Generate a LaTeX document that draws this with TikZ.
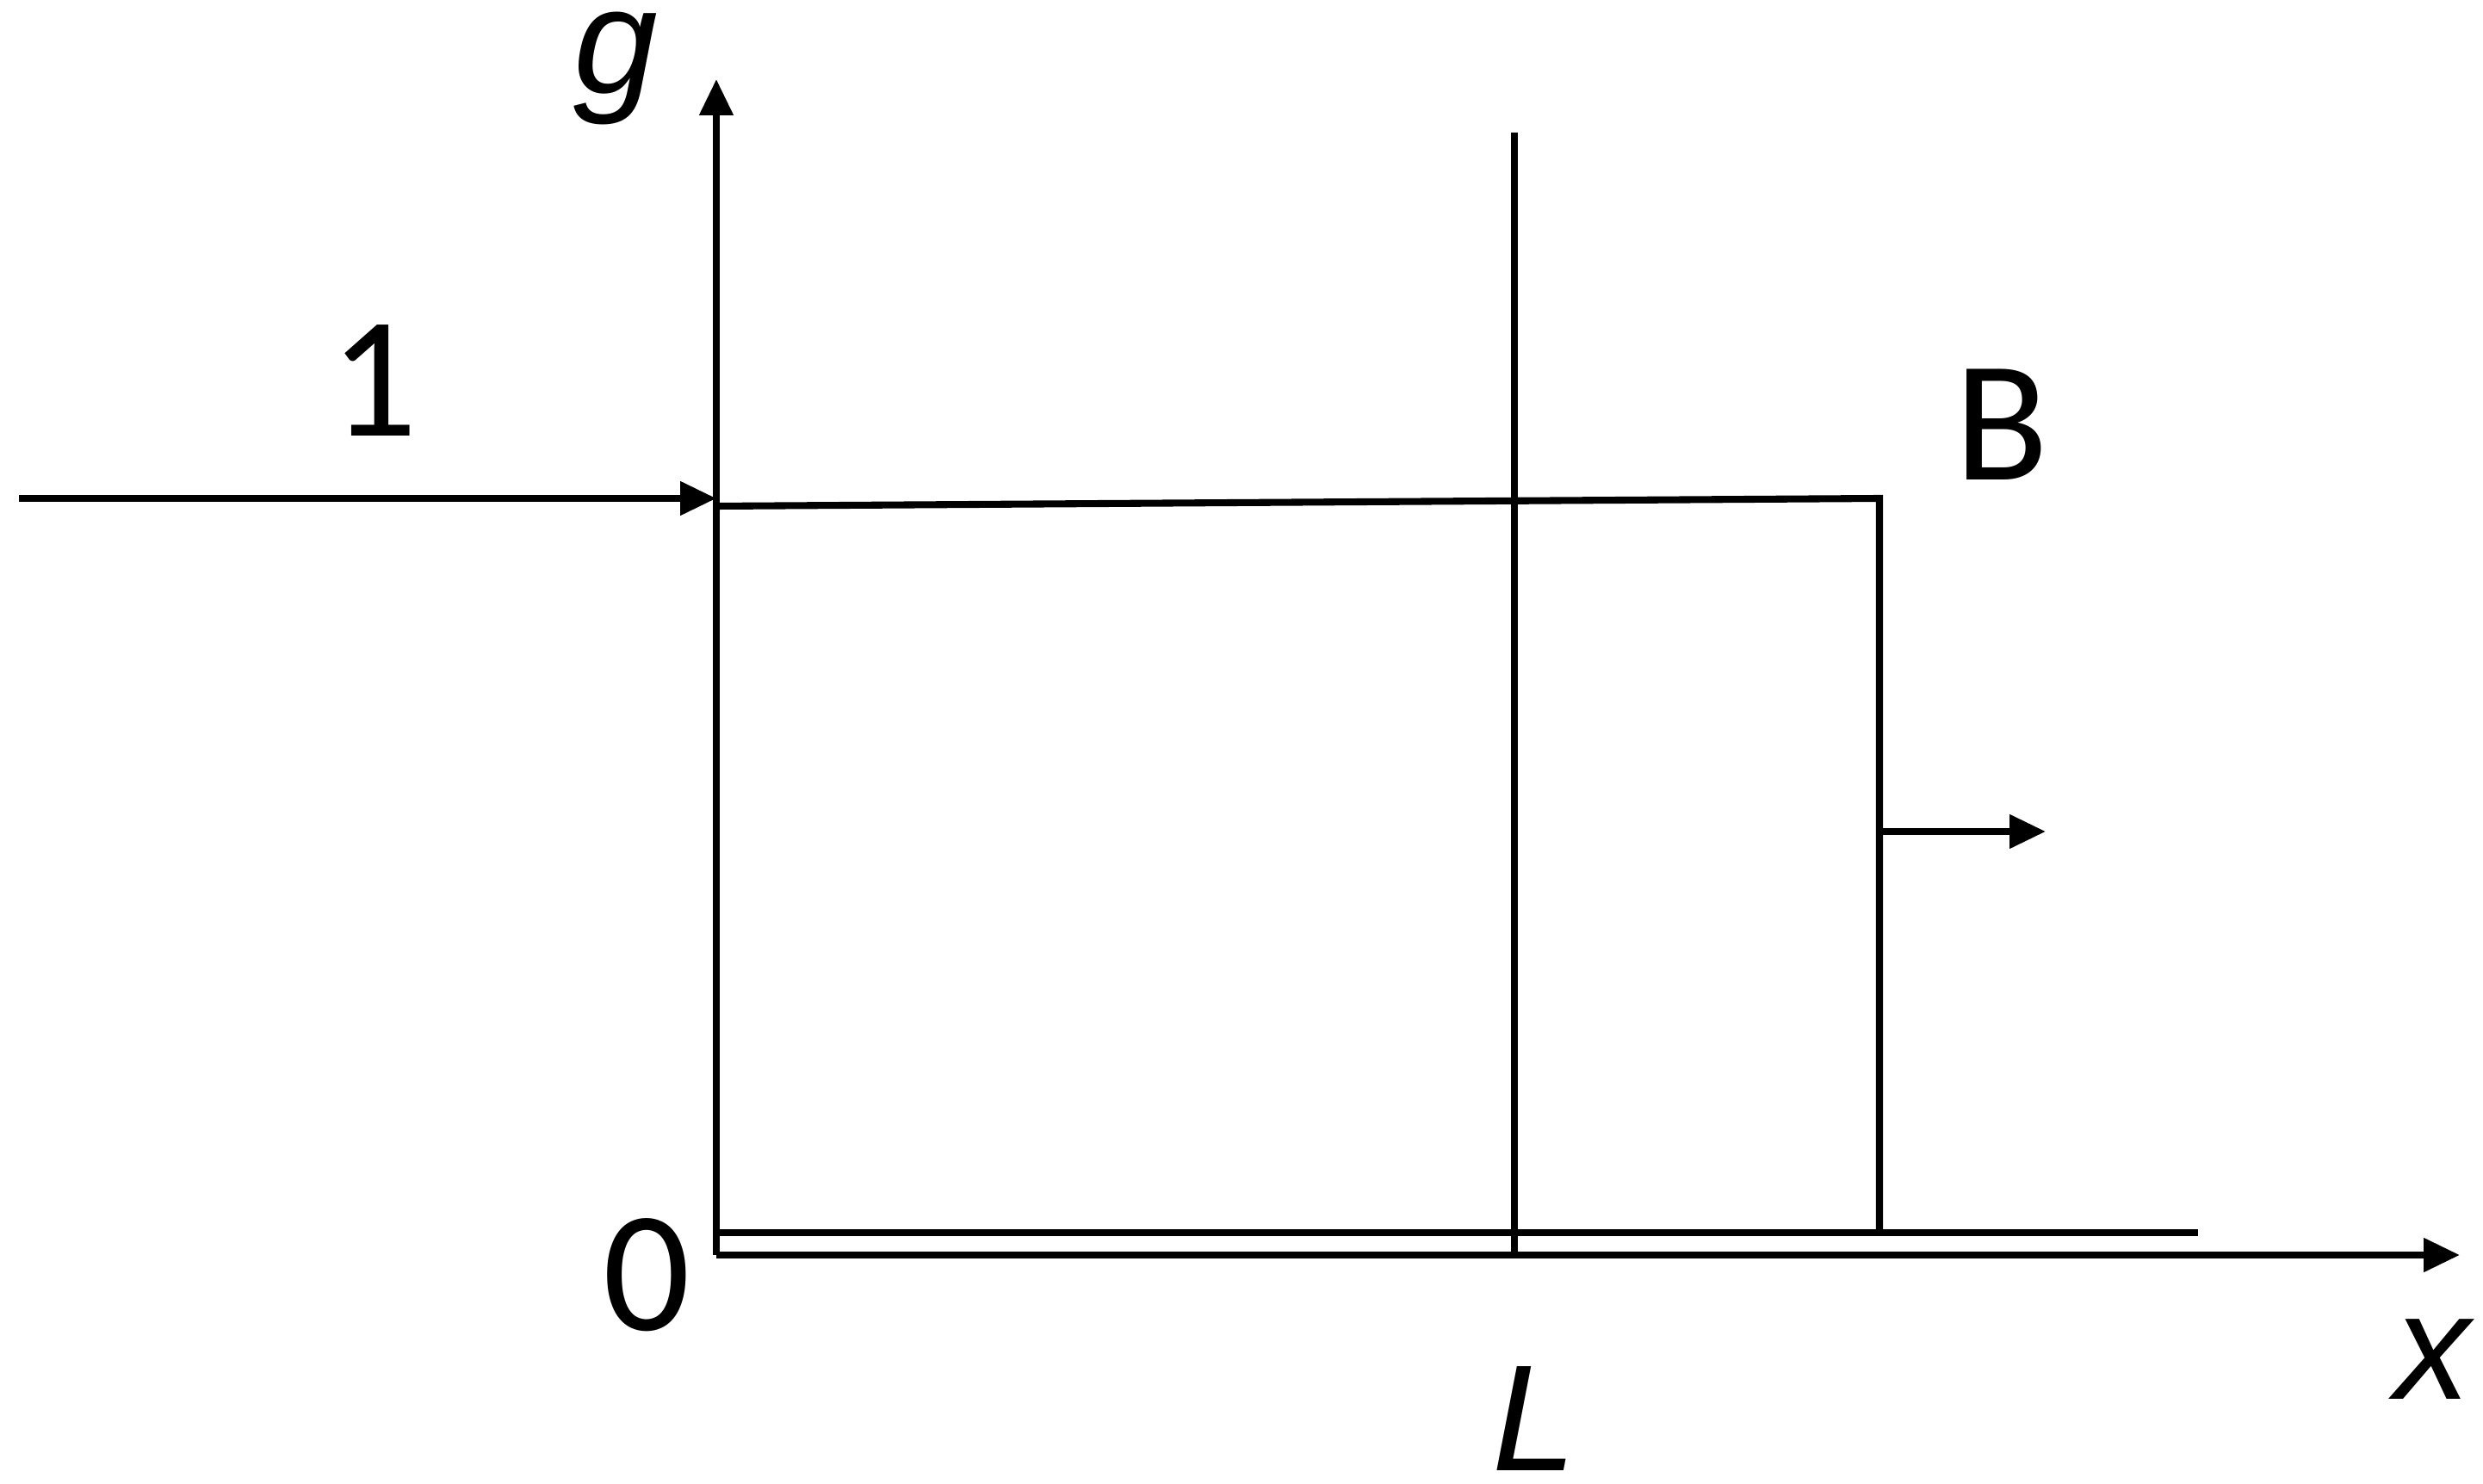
\documentclass[tikz,border=0pt]{standalone}
\usepackage{fontspec}
\setmainfont{Carlito}
\newfontfamily\varfont{Liberation Sans}
\usepackage{tikz}
\usetikzlibrary{arrows.meta,calc}
\newcommand{\LINEPT}{2.3pt}
\newcommand{\LABELSIZE}{\fontsize{57}{62}\selectfont}
\newcommand{\VARSIZE}{\fontsize{50}{56}\selectfont}
\tikzset{
	axisline/.style={-{Triangle[length=0.42cm,width=0.38cm]},line width=\LINEPT},
	plainline/.style={-,line width=\LINEPT},
	lbl/.style={inner sep=0pt,anchor=base,font=\LABELSIZE},
	varlbl/.style={inner sep=0pt,anchor=base,font=\VARSIZE\varfont\itshape}
}
\begin{document}
\begin{tikzpicture}
	
		\useasboundingbox (-8.32,-2.65) rectangle (20.52,14.58);
		%%
		
		\coordinate (o1) at (0,0) ;
		\coordinate (gtop) at (0,13.66);
		\coordinate (xtip) at (20.25,0);
		\coordinate (b0) at (0,0.26);
		\coordinate (b1) at (17.21,0.26);
		\coordinate (l0) at (9.27,0);
		\coordinate (l1) at (9.27,13.04);
		\coordinate (t0) at (0,8.70);
		\coordinate (t1) at (13.51,8.79);
		\coordinate (r1) at (13.51,0.26);
		\coordinate (in0) at (-8.10,8.79);
		\coordinate (in1) at (0,8.79);
		\coordinate (s0) at (13.51,4.92);
		\coordinate (s1) at (15.44,4.92);
		
		%%
		\draw[axisline] (o1) -- (gtop);
		\draw[axisline] (o1) -- (xtip);
		\draw[plainline] (b0) -- (b1);
		\draw[plainline] (l0) -- (l1);
		\draw[plainline] (t0) -- (t1) -- (r1);
		\draw[axisline] (in0) -- (in1);
		\draw[axisline] (s0) -- (s1);
		
		%%
		\node[varlbl] (glabel) at (-1.17,13.49) {g};
		\node[varlbl] (xlabel) at (19.93,-1.67) {x};
		\node[varlbl] (Llabel) at (9.50,-2.50) {L};
		\node[lbl] (zero) at (-0.81,-0.87) {0};
		\node[lbl] (one) at (-3.98,9.51) {1};
		\node[lbl] (Blabel) at (14.93,9.00) {B};

	\end{tikzpicture}
\end{document}
